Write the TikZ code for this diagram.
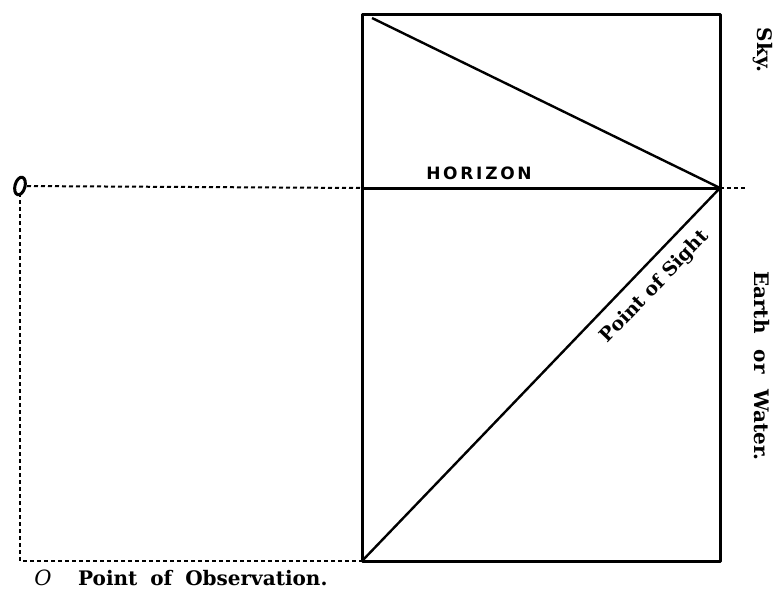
\documentclass[tikz,border=0pt]{standalone}
\usepackage{fontspec}
\usetikzlibrary{shapes.geometric}
\setmainfont{DejaVu Serif}
\newfontfamily\capsfont[LetterSpace=16]{DejaVu Sans}
\begin{document}
\begin{tikzpicture}[x=1pt,y=-1pt,
  frame/.style={line width=3pt, line join=round},
  thin/.style={line width=2.4pt},
  dots/.style={line width=2pt, dash pattern=on 4pt off 3pt},
  lbl/.style={font=\bfseries\fontsize{20}{23}\selectfont, inner sep=0pt}]
\useasboundingbox (0,0) rectangle (775,591);
\coordinate (TL) at (362,15);
\coordinate (TR) at (720,15);
\coordinate (BL) at (362,561);
\coordinate (BR) at (720,561);
\coordinate (HL) at (362,188);
\coordinate (HR) at (720,188);
\coordinate (HE) at (746,188);
\coordinate (TLd) at (372,18);
\coordinate (Otop) at (20,186);
\coordinate (Obot) at (20,561);
\draw[frame] (TL) rectangle (BR);
\draw[frame] (HL) -- (HR);
\draw[thin] (TLd) -- (HR);
\draw[thin] (BL) -- (HR);
\draw[dots] (HR) -- (HE);
\draw[dots] (Otop) -- (HL);
\draw[dots] (Otop) -- (Obot) -- (BL);
\node[draw, line width=3pt, ellipse, minimum width=10pt, minimum height=18pt, inner sep=0pt, rotate=-15, fill=white] (O) at (Otop) {};
\node[lbl, font=\bfseries\fontsize{19}{22}\selectfont, rotate=46.2] (pos) at (655,287) {Point of Sight};
\node[font=\capsfont\bfseries\fontsize{17}{19}\selectfont, inner sep=0pt] (hz) at (479,173) {HORIZON};
\node[lbl, rotate=-90] (sky) at (763,50) {Sky.};
\node[lbl, rotate=-90] (earth) at (762,366) {Earth\hspace{0.8em}or\hspace{0.8em}Water.};
\node[lbl, font=\itshape\fontsize{21}{23}\selectfont] (o2) at (43,578) {O};
\node[lbl, anchor=west] (poo) at (78,578) {Point\hspace{0.3em} of\hspace{0.3em} Observation.};
\end{tikzpicture}
\end{document}
